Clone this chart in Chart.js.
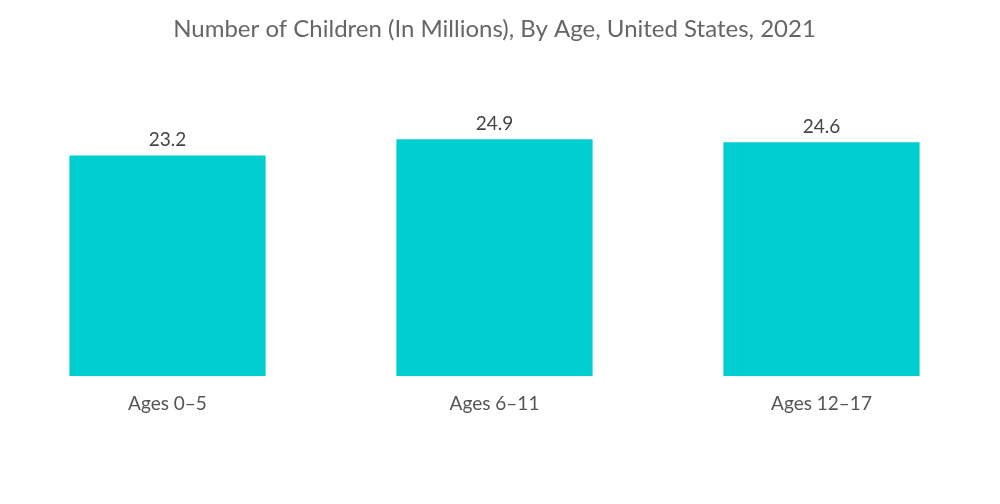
<!DOCTYPE html>
<html><head><meta charset="utf-8">
<script src="https://cdn.jsdelivr.net/npm/chart.js@4/dist/chart.umd.min.js"></script>
<style>html,body{margin:0;padding:0;background:#fff}#wrap{width:1000px;height:504px}</style>
</head><body><div id="wrap"><canvas id="c" width="1000" height="504"></canvas></div>
<script>
const categories = ["Ages 0\u20135", "Ages 6\u201311", "Ages 12\u201317"];
const values = [23.2, 24.9, 24.6];
const title = "Number of Children (In Millions), By Age, United States, 2021";
const barColor = "#00CED1";

const valueLabels = {
  id: "valueLabels",
  afterDatasetsDraw(chart) {
    const ctx = chart.ctx;
    const meta = chart.getDatasetMeta(0);
    ctx.save();
    ctx.font = "19px Lato";
    ctx.fillStyle = "#444";
    ctx.textAlign = "center";
    ctx.textBaseline = "bottom";
    meta.data.forEach((bar, i) => {
      ctx.fillText(values[i].toFixed(1), bar.x, bar.y - 6);
    });
    ctx.restore();
  }
};

new Chart(document.getElementById("c"), {
  type: "bar",
  data: { labels: categories, datasets: [{ data: values, backgroundColor: barColor, borderWidth: 0, categoryPercentage: 0.6, barPercentage: 1.0 }] },
  options: {
    responsive: false,
    animation: false,
    devicePixelRatio: 1,
    layout: { padding: { left: 4, right: 15, top: 0, bottom: 81 } },
    plugins: {
      legend: { display: false },
      tooltip: { enabled: false },
      title: { display: true, text: title, color: "#666", font: { family: "Lato", size: 24, weight: "normal" }, padding: { top: 15, bottom: 47 } }
    },
    scales: {
      x: { grid: { display: false }, border: { display: false }, ticks: { color: "#555", font: { family: "Lato", size: 19 }, padding: 8 } },
      y: { display: false, min: 0, max: 30 }
    }
  },
  plugins: [valueLabels]
});
</script></body></html>
